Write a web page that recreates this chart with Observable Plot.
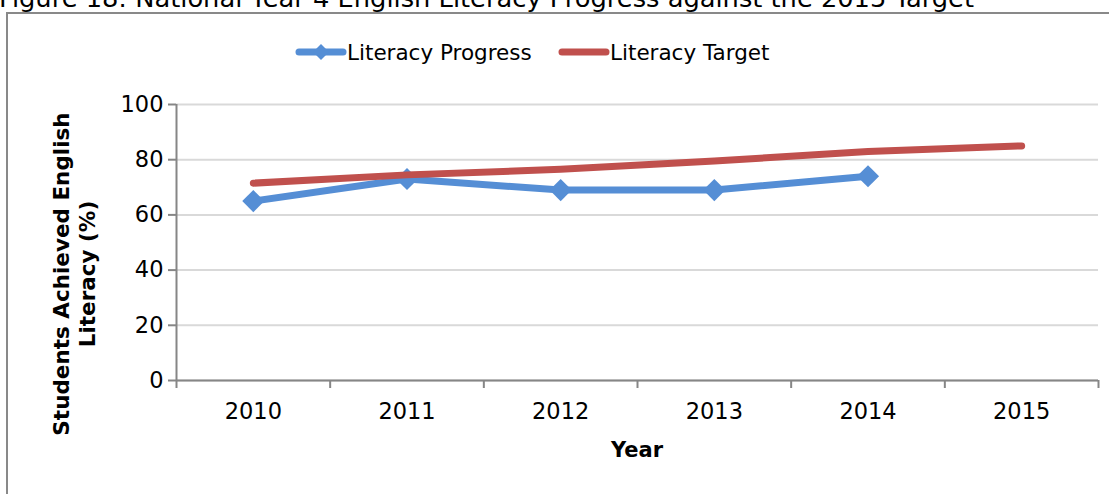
<!DOCTYPE html>
<html>
<head>
<meta charset="utf-8">
<script src="https://cdn.jsdelivr.net/npm/d3@7"></script>
<script src="https://cdn.jsdelivr.net/npm/@observablehq/plot@0.6"></script>
<style>
  html, body { margin: 0; padding: 0; background: white; }
  #wrap { position: relative; width: 1109px; height: 494px; overflow: hidden; font-family: "DejaVu Sans", sans-serif; color: #000; }
  #frame { position: absolute; left: 6px; top: 12px; right: -20px; bottom: -20px; border: 2px solid #898989; }
  #title { position: absolute; left: 0; top: 0; }
  .leg { position: absolute; top: 38px; display: flex; align-items: center; font-size: 21.5px; height: 28px; }
  .leg svg { display: block; }
  #ytitle { position: absolute; width: 420px; left: -135px; top: 248px; text-align: center; font-weight: bold; font-size: 21.5px; line-height: 26px; transform: rotate(-90deg); transform-origin: 210px 26px; }
  #xtitle { position: absolute; left: 537px; width: 200px; top: 438px; text-align: center; font-weight: bold; font-size: 21px; }
  #chart { position: absolute; left: 0; top: 0; }
</style>
</head>
<body>
<div id="wrap">
  <div id="frame"></div>
  <svg id="title" width="1109" height="14"><text x="-1" y="7" font-size="24" textLength="975" lengthAdjust="spacingAndGlyphs" font-family="DejaVu Sans">Figure 18:  National Year 4 English Literacy Progress against the 2015 Target</text></svg>
  <div id="legend"></div>
  <div id="ytitle">Students Achieved English<br>Literacy (%)</div>
  <div id="xtitle">Year</div>
  <div id="chart"></div>
</div>
<script>
const years = [2010, 2011, 2012, 2013, 2014, 2015];
const progressYears = [2010, 2011, 2012, 2013, 2014];
const progressValues = [65, 73, 69, 69, 74];
const targetValues = [71.5, 74.5, 76.5, 79.5, 83, 85];
const yTicks = [0, 20, 40, 60, 80, 100];
const seriesNames = ["Literacy Progress", "Literacy Target"];
const colors = ["#558ed5", "#c0504d"];

const progress = progressYears.map((y, i) => ({year: y, value: progressValues[i]}));
const target = years.map((y, i) => ({year: y, value: targetValues[i]}));
const boundaries = [years[0] - 0.5, ...years.map(y => y + 0.5)];
const gray = "#868686";

const chart = Plot.plot({
  width: 1109,
  height: 494,
  marginLeft: 176,
  marginRight: 11,
  marginTop: 104,
  marginBottom: 114,
  style: {background: "transparent", fontFamily: "DejaVu Sans, sans-serif", color: "black"},
  x: {type: "linear", domain: [boundaries[0], boundaries[boundaries.length - 1]]},
  y: {domain: [0, 100]},
  marks: [
    Plot.gridY(yTicks, {stroke: "#d9d9d9", strokeOpacity: 1, strokeWidth: 2}),
    Plot.ruleX([boundaries[0]], {stroke: gray, strokeWidth: 2}),
    Plot.ruleY([0], {stroke: gray, strokeWidth: 2}),
    Plot.axisY({ticks: yTicks, tickSize: 8, tickPadding: 5, stroke: gray, strokeWidth: 2, fontSize: 22.5, label: null}),
    Plot.axisX({ticks: boundaries, tickSize: 8, stroke: gray, strokeWidth: 2, tickFormat: () => "", label: null}),
    Plot.axisX({ticks: years, tickSize: 0, tickPadding: 23, fontSize: 22.5, tickFormat: d => String(d), label: null}),
    Plot.line(progress, {x: "year", y: "value", stroke: colors[0], strokeWidth: 7, strokeLinejoin: "round"}),
    Plot.dot(progress, {x: "year", y: "value", symbol: "diamond2", r: 10, fill: colors[0], stroke: "none"}),
    Plot.line(target, {x: "year", y: "value", stroke: colors[1], strokeWidth: 7, strokeLinecap: "round", strokeLinejoin: "round"})
  ]
});
document.getElementById("chart").appendChild(chart);

// Legend
const legend = document.getElementById("legend");
const legLeft = [295, 558];
seriesNames.forEach((name, i) => {
  const item = document.createElement("div");
  item.className = "leg";
  item.style.left = legLeft[i] + "px";
  const marker = i === 0
    ? `<path d="M26,3 L34,11 L26,19 L18,11 Z" fill="${colors[0]}"/>`
    : "";
  item.innerHTML = `<svg width="52" height="22"><line x1="4" y1="11" x2="48" y2="11" stroke="${colors[i]}" stroke-width="7" stroke-linecap="round"/>${marker}</svg><span>${name}</span>`;
  legend.appendChild(item);
});
</script>
</body>
</html>
